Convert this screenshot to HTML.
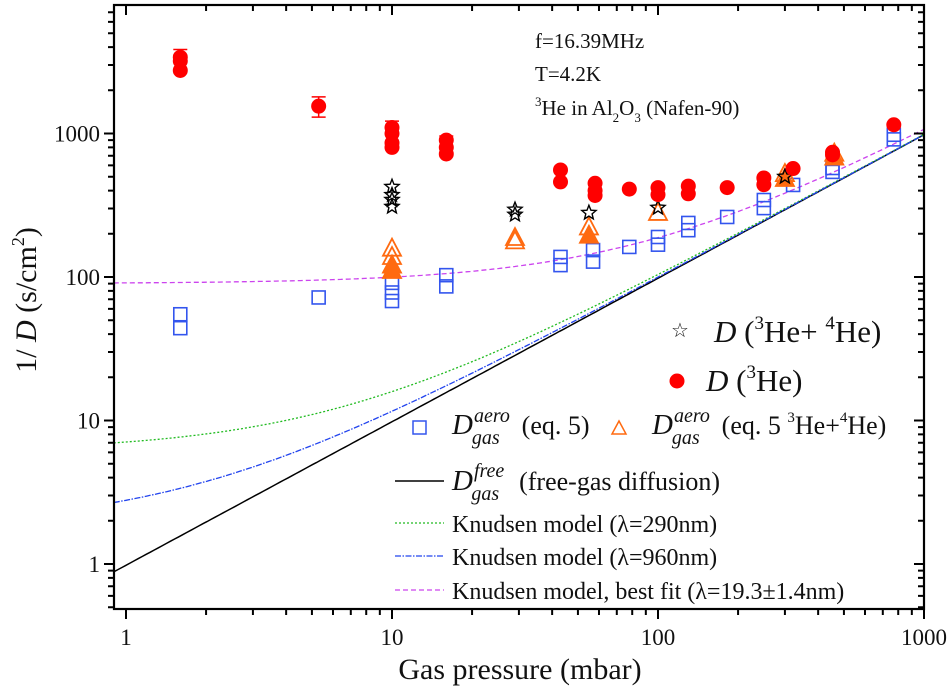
<!DOCTYPE html>
<html><head><meta charset="utf-8"><style>
html,body{margin:0;padding:0;background:#fff}
svg{display:block;font-family:"Liberation Serif",serif}
</style></head><body>
<svg id="chart" width="950" height="695" xmlns="http://www.w3.org/2000/svg">
<g id="marks"></g>
<g id="axes"></g>
<g font-size="21" fill="#111">
<text x="535" y="48">f=16.39MHz</text>
<text x="535" y="81">T=4.2K</text>
<text x="535" y="115"><tspan font-size="13" dy="-9">3</tspan><tspan dy="9">He in Al</tspan><tspan font-size="13" dy="7">2</tspan><tspan dy="-7">O</tspan><tspan font-size="13" dy="7">3</tspan><tspan dy="-7"> (Nafen-90)</tspan></text>
</g>
<g fill="#111">
<text x="680" y="337" font-size="20" text-anchor="middle">☆</text>
<text x="714" y="342" font-size="31"><tspan font-style="italic">D</tspan> (<tspan font-size="19" dy="-13">3</tspan><tspan dy="13">He+ </tspan><tspan font-size="19" dy="-13">4</tspan><tspan dy="13">He)</tspan></text>
<circle cx="677" cy="381" r="7.5" fill="#f00"/>
<text x="706" y="391" font-size="31"><tspan font-style="italic">D</tspan> (<tspan font-size="19" dy="-13">3</tspan><tspan dy="13">He)</tspan></text>
<rect x="413" y="421" width="13" height="13" fill="none" stroke="#3355ee" stroke-width="1.5"/>
<text x="452" y="434" font-size="29"><tspan font-style="italic">D</tspan><tspan font-style="italic" font-size="20" dx="1" dy="-12">aero</tspan><tspan font-style="italic" font-size="20" dx="-38" dy="22">gas</tspan><tspan font-size="26" dx="22" dy="-10">(eq. 5)</tspan></text>
<path d="M612,434 L619,421 L626,434 Z" fill="none" stroke="#ff6a10" stroke-width="1.5"/>
<text x="652" y="434" font-size="29"><tspan font-style="italic">D</tspan><tspan font-style="italic" font-size="20" dx="1" dy="-12">aero</tspan><tspan font-style="italic" font-size="20" dx="-38" dy="22">gas</tspan><tspan font-size="26" dx="22" dy="-10">(eq. 5 </tspan><tspan font-size="15" dy="-12">3</tspan><tspan font-size="26" dy="12">He+</tspan><tspan font-size="15" dy="-12">4</tspan><tspan font-size="26" dy="12">He)</tspan></text>
<line x1="395" y1="481" x2="444" y2="481" stroke="#000" stroke-width="1.5"/>
<text x="452" y="490" font-size="29"><tspan font-style="italic">D</tspan><tspan font-style="italic" font-size="20" dx="1" dy="-13">free</tspan><tspan font-style="italic" font-size="20" dx="-33" dy="23">gas</tspan><tspan font-size="26" dx="20" dy="-10">(free-gas diffusion)</tspan></text>
<line x1="395" y1="523" x2="444" y2="523" stroke="#22bb22" stroke-width="1.3" stroke-dasharray="2,2"/>
<text x="452" y="532" font-size="24">Knudsen model (λ=290nm)</text>
<line x1="395" y1="556" x2="444" y2="556" stroke="#2244ee" stroke-width="1.3" stroke-dasharray="6,1.5,1.5,1.5"/>
<text x="452" y="565" font-size="24">Knudsen model (λ=960nm)</text>
<line x1="395" y1="590" x2="444" y2="590" stroke="#cc44ee" stroke-width="1.3" stroke-dasharray="5,3"/>
<text x="452" y="599" font-size="24">Knudsen model, best fit (λ=19.3±1.4nm)</text>
</g>
<text x="520" y="679" font-size="30" text-anchor="middle" fill="#111">Gas pressure (mbar)</text>
<text transform="translate(36,300) rotate(-90)" font-size="30" text-anchor="middle" fill="#111">1/ <tspan font-style="italic">D</tspan>  (s/cm<tspan font-size="18" dy="-12">2</tspan><tspan dy="12">)</tspan></text>
</svg>
<script>
// ---- data ----
const he3P = [1.6,1.6,1.6, 5.3, 10,10,10,10, 16,16,16, 43,43, 58,58,58, 78, 100,100, 130,130, 182, 250,250, 322, 453,453, 770];
const he3V = [3400,3200,2750, 1550, 1100,1000,860,800, 900,800,720, 557,460, 450,400,370, 410, 420,375, 430,380, 420, 490,440, 570, 740,710, 1150];
const he3ErrP = [1.6, 5.3, 10, 16];
const he3ErrLo = [2700, 1300, 800, 700];
const he3ErrHi = [3850, 1800, 1220, 960];
const mixP = [10,10,10,10, 29,29, 55, 100, 300];
const mixV = [425,373,345,309, 295,272, 280, 304, 500];
const aeroP = [1.6,1.6, 5.3, 10,10,10, 16,16, 43,43, 57,57, 78, 100,100, 130,130, 182, 250,250, 322, 453,453, 770,770];
const aeroV = [55,44, 72, 91,78,68, 103,86, 138,121, 154,128, 162, 190,168, 238,212, 262, 344,302, 438, 575,540, 980,910];
const triP = [10,10,10,10, 29,29, 55,55, 100, 300,300, 460,460];
const triV = [160,140,122,112, 190,180, 225,197, 284, 530,490, 735,690];
const triFilled = [0,0,1,1, 0,0, 0,1, 0, 0,1, 0,1];
const freeSlope = [0.98];
const knudsenOffsets = [6.1, 1.8, 90]; // 290nm, 960nm, best fit
const xTicks = [1, 10, 100, 1000];
const yTicks = [1, 10, 100, 1000];

// ---- axes ----
const L=114,R=924,T=5,B=609;
const X = p => 126 + 266*Math.log10(p);
const Y = v => 564 - 143.5*Math.log10(v);
const NS='http://www.w3.org/2000/svg';
const marks=document.getElementById('marks'), axes=document.getElementById('axes');
function mk(tag,attrs,parent){const e=document.createElementNS(NS,tag);for(const k in attrs)e.setAttribute(k,attrs[k]);parent.appendChild(e);return e;}

const defs=mk('defs',{},marks);
const cp=mk('clipPath',{id:'clip'},defs);
mk('rect',{x:L,y:T,width:R-L,height:B-T},cp);
const plot=mk('g',{'clip-path':'url(#clip)'},marks);

function curve(c, style, name){
  let d='';
  for(let i=0;i<=200;i++){const p=Math.pow(10,Math.log10(0.9)+i*(3-Math.log10(0.9))/200);const v=freeSlope[0]*p+c;d+=(i?'L':'M')+X(p).toFixed(1)+','+Y(v).toFixed(1);}
  const e=mk('path',Object.assign({d:d,fill:'none'},style),plot);
  
  
}
curve(0,{stroke:'#000','stroke-width':1.5},'free-gas-line');
curve(knudsenOffsets[0],{stroke:'#22bb22','stroke-width':1.3,'stroke-dasharray':'2,2'},'knudsen-290-line');
curve(knudsenOffsets[1],{stroke:'#2244ee','stroke-width':1.3,'stroke-dasharray':'6,1.5,1.5,1.5'},'knudsen-960-line');
curve(knudsenOffsets[2],{stroke:'#cc44ee','stroke-width':1.3,'stroke-dasharray':'5,3'},'best-fit-line');

aeroP.forEach((p,i)=>{
  const e=mk('rect',{x:X(p)-6.5,y:Y(aeroV[i])-6.5,width:13,height:13,fill:'none',stroke:'#3355ee','stroke-width':1.6},plot);
  
  
});
triP.forEach((p,i)=>{
  const x=X(p),y=Y(triV[i]);
  const e=mk('path',{d:`M${x-9},${y+8}L${x},${y-9}L${x+9},${y+8}Z`,fill:triFilled[i]?'#ff6a10':'none',stroke:'#ff6a10','stroke-width':1.8},plot);
  
  
});
function starPath(cx,cy,r1,r2){let d='';for(let k=0;k<10;k++){const a=-Math.PI/2+k*Math.PI/5;const r=k%2?r2:r1;d+=(k?'L':'M')+(cx+r*Math.cos(a)).toFixed(1)+','+(cy+r*Math.sin(a)).toFixed(1);}return d+'Z';}
mixP.forEach((p,i)=>{
  const e=mk('path',{d:starPath(X(p),Y(mixV[i]),7.5,3.3),fill:'none',stroke:'#000','stroke-width':1.4},plot);
  
  
});
he3ErrP.forEach((p,i)=>{
  const x=X(p),y1=Y(he3ErrHi[i]),y2=Y(he3ErrLo[i]);
  const e=mk('path',{d:`M${x},${y1}V${y2}M${x-7},${y1}H${x+7}M${x-7},${y2}H${x+7}`,stroke:'#f00','stroke-width':1.5,fill:'none'},plot);
  
  
});
he3P.forEach((p,i)=>{
  const e=mk('circle',{cx:X(p),cy:Y(he3V[i]),r:7.5,fill:'#f00'},plot);
  
  
});

const fr=mk('rect',{x:L,y:T,width:R-L,height:B-T,fill:'none',stroke:'#000','stroke-width':2.2},axes);


let td='';
for(let dec=0;dec<3;dec++)for(let m=1;m<10;m++){const p=m*Math.pow(10,dec);const x=X(p);if(x<L)continue;const len=m===1?10:6;td+=`M${x},${B}v${len}M${x},${T}v${len}`;}
td+=`M${X(1000)},${B}v10`;
for(let dec=-1;dec<4;dec++)for(let m=1;m<10;m++){const v=m*Math.pow(10,dec);const y=Y(v);if(y>B||y<T)continue;const len=m===1?10:6;td+=`M${L},${y}h${-len}M${R},${y}h${-len}`;}
const tk=mk('path',{d:td,stroke:'#000','stroke-width':2,fill:'none'},axes);


xTicks.forEach(p=>{
  const t=mk('text',{x:X(p),y:645,'font-size':23,'text-anchor':'middle',fill:'#111'},axes);t.textContent=p;
  
  
});
yTicks.forEach(v=>{
  const t=mk('text',{x:100,y:Y(v)+8,'font-size':23,'text-anchor':'end',fill:'#111'},axes);t.textContent=v;
  
  
});
</script>
</body></html>
